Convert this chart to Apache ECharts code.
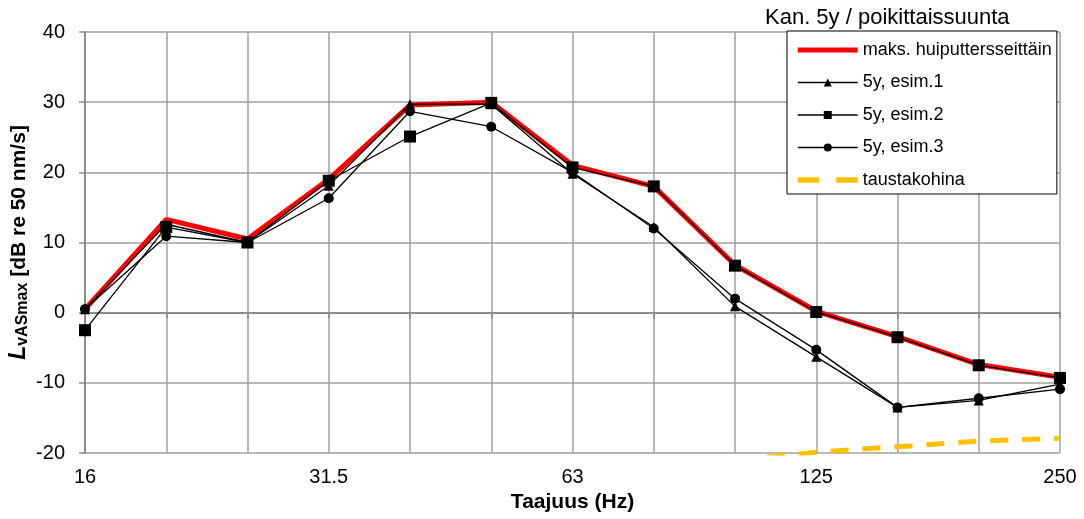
<!DOCTYPE html>
<html>
<head>
<meta charset="utf-8">
<script src="https://cdn.jsdelivr.net/npm/echarts@6/dist/echarts.min.js"></script>
<style>
html, body { margin: 0; padding: 0; background: #fff; }
#chart { width: 1084px; height: 519px; }
</style>
</head>
<body>
<div id="chart"></div>
<script>
// terssikaistat (Hz)
var freqs = ['16', '20', '25', '31.5', '40', '50', '63', '80', '100', '125', '160', '200', '250'];

// mittaustulokset, luettu kuvasta
var maksimi = [0.5, 13.3, 10.5, 19.0, 29.6, 30.0, 21.0, 18.0, 6.8, 0.2, -3.4, -7.4, -9.2];
var esim1 = [0.5, 12.6, 10.0, 18.1, 29.7, 29.7, 19.8, 12.2, 0.9, -6.3, -13.5, -12.5, -10.2];
var esim2 = [-2.5, 12.2, 10.0, 18.8, 25.1, 29.9, 20.7, 18.0, 6.7, 0.1, -3.5, -7.5, -9.3];
var esim3 = [0.5, 10.9, 10.0, 16.3, 28.7, 26.5, 20.0, 12.0, 2.0, -5.3, -13.5, -12.2, -10.9];
var tausta = [null, null, null, null, null, null, null, null, -21.0, -19.9, -19.1, -18.3, -17.9];

var fnt = '"Liberation Sans", Arial, sans-serif';

var myChart = echarts.init(document.getElementById('chart'));

var option = {
	animation: false,
	title: {
		text: 'Kan. 5y / poikittaissuunta',
		left: 765,
		top: 7,
		padding: 0,
		textStyle: { fontFamily: fnt, fontSize: 22, fontWeight: 'normal', color: '#000' }
	},
	legend: {
		orient: 'vertical',
		left: 787,
		top: 31,
		padding: [10, 5, 5, 10],
		backgroundColor: '#fff',
		borderColor: '#000',
		borderWidth: 1,
		borderRadius: 0,
		itemWidth: 60,
		itemHeight: 10,
		itemGap: 14.5,
		textStyle: { fontFamily: fnt, fontSize: 18, color: '#000' },
		data: [
			{ name: 'maks. huiputtersseittäin', icon: 'path://M0,0H60V5H0Z', itemStyle: { color: '#ff0000' } },
			{ name: '5y, esim.1', lineStyle: { width: 1.5 } },
			{ name: '5y, esim.2', lineStyle: { width: 1.5 } },
			{ name: '5y, esim.3', lineStyle: { width: 1.5 } },
			{ name: 'taustakohina', icon: 'path://M0,0H19V5H0Z M34,0H53V5H34Z', itemStyle: { color: '#ffc000' } }
		]
	},
	grid: { left: 85, right: 24, top: 32, bottom: 66, outerBoundsMode: 'none' },
	xAxis: {
		type: 'category',
		data: freqs,
		boundaryGap: false,
		name: 'Taajuus (Hz)',
		nameLocation: 'middle',
		nameGap: 38,
		nameTextStyle: { fontFamily: fnt, fontSize: 21, fontWeight: 'bold', color: '#000' },
		axisLine: { lineStyle: { color: '#8c8c8c', width: 2 } },
		axisTick: { show: true, interval: 0, length: 6, lineStyle: { color: '#8c8c8c', width: 1.5 } },
		axisLabel: { interval: 2, margin: 14, fontFamily: fnt, fontSize: 20, color: '#000' },
		splitLine: { show: true, interval: 0, lineStyle: { color: '#a0a0a0', width: 1.5 } }
	},
	yAxis: {
		type: 'value',
		min: -20,
		max: 40,
		interval: 10,
		name: '{l|L}{s|vASmax}{n| [dB re 50 nm/s]}',
		nameLocation: 'middle',
		nameGap: 54,
		nameMoveOverlap: false,
		nameRotate: 90,
		nameTextStyle: {
			rich: {
				l: { fontFamily: fnt, fontSize: 23, fontWeight: 'bold', fontStyle: 'italic', color: '#000' },
				s: { fontFamily: fnt, fontSize: 16, fontWeight: 'bold', color: '#000', verticalAlign: 'bottom', padding: [8, 0, 0, 0] },
				n: { fontFamily: fnt, fontSize: 21, fontWeight: 'bold', color: '#000' }
			}
		},
		axisLine: { show: true, lineStyle: { color: '#8c8c8c', width: 2 } },
		axisTick: { show: true, length: 6, lineStyle: { color: '#8c8c8c', width: 1.5 } },
		axisLabel: { margin: 20, fontFamily: fnt, fontSize: 20, color: '#000' },
		splitLine: { show: true, lineStyle: { color: '#a0a0a0', width: 1.5 } }
	},
	series: [
		{
			name: 'maks. huiputtersseittäin',
			type: 'line',
			data: maksimi,
			symbol: 'none',
			color: '#ff0000',
			lineStyle: { color: '#ff0000', width: 5 }
		},
		{
			name: '5y, esim.1',
			type: 'line',
			data: esim1,
			symbol: 'triangle',
			symbolSize: 10,
			color: '#000',
			lineStyle: { color: '#000', width: 1.3 }
		},
		{
			name: '5y, esim.2',
			type: 'line',
			data: esim2,
			symbol: 'rect',
			symbolSize: 12,
			color: '#000',
			lineStyle: { color: '#000', width: 1.3 }
		},
		{
			name: '5y, esim.3',
			type: 'line',
			data: esim3,
			symbol: 'circle',
			symbolSize: 10,
			color: '#000',
			lineStyle: { color: '#000', width: 1.3 }
		},
		{
			name: 'taustakohina',
			type: 'line',
			data: tausta,
			symbol: 'none',
			clip: true,
			color: '#ffc000',
			lineStyle: { color: '#ffc000', width: 5, type: [18, 14] }
		}
	]
};

myChart.setOption(option);
</script>
</body>
</html>
